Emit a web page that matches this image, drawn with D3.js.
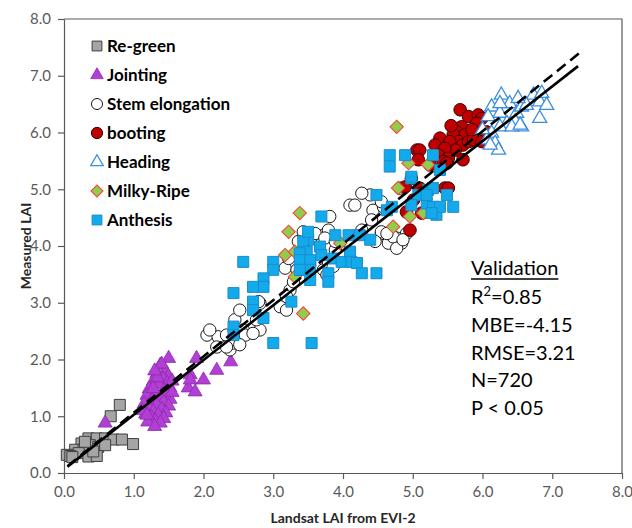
<!DOCTYPE html>
<html><head><meta charset="utf-8">
<script src="https://cdn.jsdelivr.net/npm/d3@7"></script>
<style>body{margin:0;background:#fff}svg{display:block}</style>
</head><body><svg id="c" width="632" height="528"></svg>
<script>
// ---------- data (LAI pairs: [Landsat LAI from EVI-2, Measured LAI]) ----------
const xTicks = [0,1,2,3,4,5,6,7,8];
const yTicks = [0,1,2,3,4,5,6,7,8];
const seriesNames = ["Re-green","Jointing","Stem elongation","booting","Heading","Milky-Ripe","Anthesis"];

const regreen = [[0.80,1.20],[0.67,1.00],[0.35,0.61],[0.47,0.61],[0.59,0.61],[0.71,0.59],[0.83,0.59],[0.99,0.51],[0.25,0.52],[0.37,0.49],[0.16,0.41],[0.28,0.41],[0.49,0.46],[0.59,0.49],[0.04,0.32],[0.21,0.35],[0.35,0.29],[0.47,0.30],[0.09,0.30],[0.42,0.38],[0.30,0.55],[0.12,0.28]];

const jointing = [[1.50,2.02],[1.38,1.90],[1.45,1.80],[1.33,1.75],[1.50,1.70],[1.42,1.66],[1.28,1.62],[1.48,1.58],[1.36,1.55],[1.52,1.50],[1.22,1.48],[1.44,1.45],[1.30,1.40],[1.47,1.38],[1.19,1.37],[1.38,1.33],[1.52,1.30],[1.26,1.28],[1.43,1.25],[1.15,1.22],[1.33,1.20],[1.50,1.18],[1.22,1.15],[1.40,1.12],[1.28,1.08],[1.46,1.06],[1.17,1.04],[1.35,1.02],[1.25,0.98],[1.43,0.96],[1.31,0.92],[1.20,0.90],[1.38,0.88],[1.30,0.82],[1.55,1.42],[1.55,1.62],[1.12,1.10],[1.34,1.68],[1.40,1.92],[1.30,1.80],[1.19,1.02],
  [1.90,2.02],[1.81,1.73],[2.19,1.81],[2.39,1.96],[2.00,1.64],[1.78,1.50],[1.88,1.43],[1.81,1.64],[0.59,0.88],[1.28,1.49]];

const stem = [[2.05,2.43],[2.21,2.40],[2.19,2.22],[2.38,2.17],[2.43,2.29],[2.57,2.52],[2.45,2.70],[2.60,2.43],[2.81,2.52],[2.81,2.99],[3.10,2.93],[3.19,2.87],[2.52,2.87],[2.76,2.70],[2.33,2.43],[2.52,2.26],[3.17,3.61],[3.22,3.78],[3.43,3.99],[3.55,4.16],[3.72,4.19],[3.79,4.28],[3.81,4.52],[3.89,3.93],[4.10,4.72],[4.17,4.72],[4.27,4.28],[4.43,4.63],[4.39,4.90],[4.27,4.93],[4.55,4.22],[4.65,4.05],[4.77,4.14],[4.84,4.05],[4.91,4.22],[4.72,4.16],[3.72,3.58],[3.77,3.49],[3.24,3.22],[3.19,3.11],[3.43,4.25],[3.60,4.22],[3.74,4.14],[3.89,4.08],[4.41,4.46],[4.55,4.25],[4.77,3.96],[4.86,4.11],[4.46,4.08],[3.79,3.72],[3.86,3.64],[3.36,4.08],[3.34,3.58],[3.29,3.37],[4.58,4.69],[4.82,5.02],[4.63,4.22],[4.55,4.78],[2.09,2.52],[2.71,2.46],[2.79,3.02],[2.33,2.22]];

const booting = [[5.68,6.40],[5.80,6.28],[5.94,6.31],[5.99,6.25],[5.92,6.16],[5.70,6.10],[5.63,6.01],[5.75,5.96],[5.58,5.96],[5.66,5.84],[5.72,5.78],[5.80,5.84],[5.87,5.87],[5.99,5.84],[6.06,6.01],[5.39,5.90],[5.32,5.78],[5.53,5.84],[5.61,5.69],[5.46,5.72],[5.06,5.69],[5.10,5.69],[5.08,5.52],[5.37,5.60],[5.51,5.55],[5.72,5.52],[5.44,5.49],[5.25,5.43],[5.49,5.46],[4.89,5.04],[5.01,4.81],[5.10,5.02],[5.46,5.02],[5.51,5.02],[4.91,4.60],[5.13,4.58],[4.96,4.28],[5.13,4.93],[4.98,5.19],[5.85,6.05],[5.55,6.12]];

const heading = [[6.27,6.66],[6.39,6.51],[6.13,6.45],[6.25,6.34],[6.08,6.28],[6.49,6.34],[6.56,6.45],[6.73,6.66],[6.82,6.54],[6.85,6.69],[6.63,6.48],[6.35,6.16],[6.47,6.19],[6.56,6.10],[6.25,6.10],[6.13,5.99],[6.06,5.87],[6.18,5.81],[6.23,5.69],[6.11,5.78],[6.82,6.25],[6.92,6.48],[6.42,6.10],[6.51,6.60],[6.25,6.51],[6.54,6.13],[6.00,6.05]];

const milky = [[3.38,4.58],[3.22,4.25],[3.17,3.84],[3.31,3.46],[3.43,2.81],[3.96,4.05],[4.72,4.34],[4.79,5.02],[4.96,4.52],[5.15,4.58],[4.77,6.10],[4.94,5.46],[5.22,5.43],[3.31,3.90]];

const anthesis = [[2.57,3.72],[3.00,3.72],[3.00,3.58],[2.86,3.43],[2.86,3.28],[2.71,3.28],[2.43,3.17],[2.71,3.02],[2.71,2.87],[2.86,2.73],[2.43,2.58],[2.43,2.43],[3.00,2.29],[3.55,2.29],[3.26,3.02],[3.50,4.11],[3.41,3.87],[3.41,3.72],[3.53,3.72],[3.41,3.58],[4.48,4.90],[5.22,4.99],[5.08,4.90],[4.63,4.63],[5.20,4.75],[3.69,4.52],[3.89,4.19],[4.08,4.19],[4.24,4.19],[4.39,4.11],[3.43,4.08],[3.48,3.90],[3.38,3.87],[3.38,3.75],[3.53,3.75],[3.67,3.99],[3.69,3.84],[3.86,3.78],[3.53,3.58],[3.38,3.58],[3.98,3.72],[4.10,3.90],[4.12,3.72],[4.20,3.70],[4.27,3.52],[4.48,3.52],[3.79,3.52],[3.79,3.37],[3.53,3.40],[4.98,5.19],[5.29,4.69],[5.34,4.55],[4.67,5.60],[4.67,5.40],[4.89,5.60],[5.29,5.60],[4.98,5.22],[5.39,5.34],[5.29,5.02],[5.49,4.90],[5.20,4.90],[4.98,4.72],[5.39,4.69],[5.58,4.69],[5.27,4.58],[4.70,4.69],[3.50,4.25]];

// regression (solid) and 1:1-like (dashed) lines
const fitLine = [[0.05,0.11],[7.37,7.17]];
const dashLine = [[0.05,0.12],[7.44,7.45]];

const statsTitle = "Validation";
const statsLines = [["R","2","=0.85"],["MBE=-4.15"],["RMSE=3.21"],["N=720"],["P < 0.05"]];

// ---------- drawing ----------
const svg = d3.select("#c");
const x = d3.scaleLinear().domain([0,8]).range([64,622]);
const y = d3.scaleLinear().domain([0,8]).range([473,19]);
const axisCol = "#595959";
const FONT = "Lato, 'Open Sans', sans-serif";

// frame (top/right)
svg.append("path").attr("d", `M${x(0)},${y(8)}H${x(8)}V${y(0)}`)
  .attr("fill","none").attr("stroke",axisCol).attr("stroke-width",1.2);

const fmt = d3.format(".1f");
const gx = svg.append("g").attr("transform",`translate(0,${y(0)})`)
  .call(d3.axisBottom(x).tickValues(xTicks).tickFormat(fmt).tickSizeInner(6).tickSizeOuter(0).tickPadding(7));
const gy = svg.append("g").attr("transform",`translate(${x(0)},0)`)
  .call(d3.axisLeft(y).tickValues(yTicks).tickFormat(fmt).tickSizeInner(6).tickSizeOuter(0).tickPadding(7));
[gx,gy].forEach(g=>{
  g.select(".domain").attr("stroke",axisCol).attr("stroke-width",1.2);
  g.selectAll(".tick line").attr("stroke",axisCol).attr("stroke-width",1.2);
  g.selectAll(".tick text").attr("fill","#595959").style("font-family",FONT).style("font-size","15px");
});

// axis titles
svg.append("text").attr("x",(x(0)+x(8))/2).attr("y",523).attr("text-anchor","middle")
  .style("font-family",FONT).style("font-weight","bold").style("font-size","14px").attr("fill","#262626")
  .text("Landsat LAI from EVI-2");
svg.append("text").attr("transform",`translate(31,${(y(0)+y(8))/2}) rotate(-90)`).attr("text-anchor","middle")
  .style("font-family",FONT).style("font-weight","bold").style("font-size","14px").attr("fill","#262626")
  .text("Measured LAI");

// marker styles
const styles = {
  "Re-green":       {sym:d3.symbolSquare, size:121, fill:"#a5a5a5", stroke:"#3f3f3f", sw:1, rot:0},
  "Jointing":       {sym:d3.symbolTriangle, size:85, fill:"#b23fd4", stroke:"#8d2aae", sw:0.8, rot:0},
  "Stem elongation":{sym:d3.symbolCircle, size:120, fill:"#ffffff", stroke:"#1a1a1a", sw:1, rot:0},
  "booting":        {sym:d3.symbolCircle, size:125, fill:"#c00000", stroke:"#3a0000", sw:1, rot:0},
  "Heading":        {sym:d3.symbolTriangle, size:85, fill:"#ffffff", stroke:"#3b8ede", sw:1.3, rot:0},
  "Milky-Ripe":     {sym:d3.symbolSquare, size:90, fill:"#8fcc4f", stroke:"#ff3b30", sw:1, rot:45},
  "Anthesis":       {sym:d3.symbolSquare, size:121, fill:"#12aaea", stroke:"#1b8ccc", sw:1, rot:0}
};
const dataBy = {"Re-green":regreen,"Jointing":jointing,"Stem elongation":stem,"booting":booting,"Heading":heading,"Milky-Ripe":milky,"Anthesis":anthesis};

const pts = svg.append("g");
seriesNames.forEach(n=>{
  const st = styles[n];
  pts.append("g").selectAll("path").data(dataBy[n]).join("path")
    .attr("d", d3.symbol().type(st.sym).size(st.size))
    .attr("transform", d=>`translate(${x(d[0])},${y(d[1])}) rotate(${st.rot})`)
    .attr("fill", st.fill).attr("stroke", st.stroke).attr("stroke-width", st.sw);
});

// lines
const line = d3.line().x(d=>x(d[0])).y(d=>y(d[1]));
svg.append("path").attr("d",line(dashLine)).attr("fill","none").attr("stroke","#000").attr("stroke-width",2.6).attr("stroke-dasharray","11,6");
svg.append("path").attr("d",line(fitLine)).attr("fill","none").attr("stroke","#000").attr("stroke-width",2.6);

// legend
const leg = svg.append("g");
seriesNames.forEach((n,i)=>{
  const st = styles[n];
  const cy = 46 + i*29;
  leg.append("path").attr("d", d3.symbol().type(st.sym).size(st.size*0.8))
    .attr("transform",`translate(97,${cy}) rotate(${st.rot})`)
    .attr("fill",st.fill).attr("stroke",st.stroke).attr("stroke-width",st.sw);
  leg.append("text").attr("x",107).attr("y",cy+6)
    .style("font-family",FONT).style("font-weight","bold").style("font-size","17px").attr("fill","#000")
    .text(n);
});

// stats block
const sx = 471;
const t0 = svg.append("text").attr("x",sx).attr("y",275)
  .style("font-family",FONT).style("font-size","20px").attr("fill","#000").text(statsTitle);
const tw = t0.node().getComputedTextLength();
svg.append("line").attr("x1",sx).attr("x2",sx+tw).attr("y1",279).attr("y2",279).attr("stroke","#000").attr("stroke-width",1.3);
statsLines.forEach((l,i)=>{
  const t = svg.append("text").attr("x",sx).attr("y",304+i*27.8)
    .style("font-family",FONT).style("font-size","20px").attr("fill","#000");
  if(l.length===3){
    t.append("tspan").text(l[0]);
    t.append("tspan").attr("dy",-8).style("font-size","13px").text(l[1]);
    t.append("tspan").attr("dy",8).text(l[2]);
  } else t.text(l[0]);
});
</script></body></html>
